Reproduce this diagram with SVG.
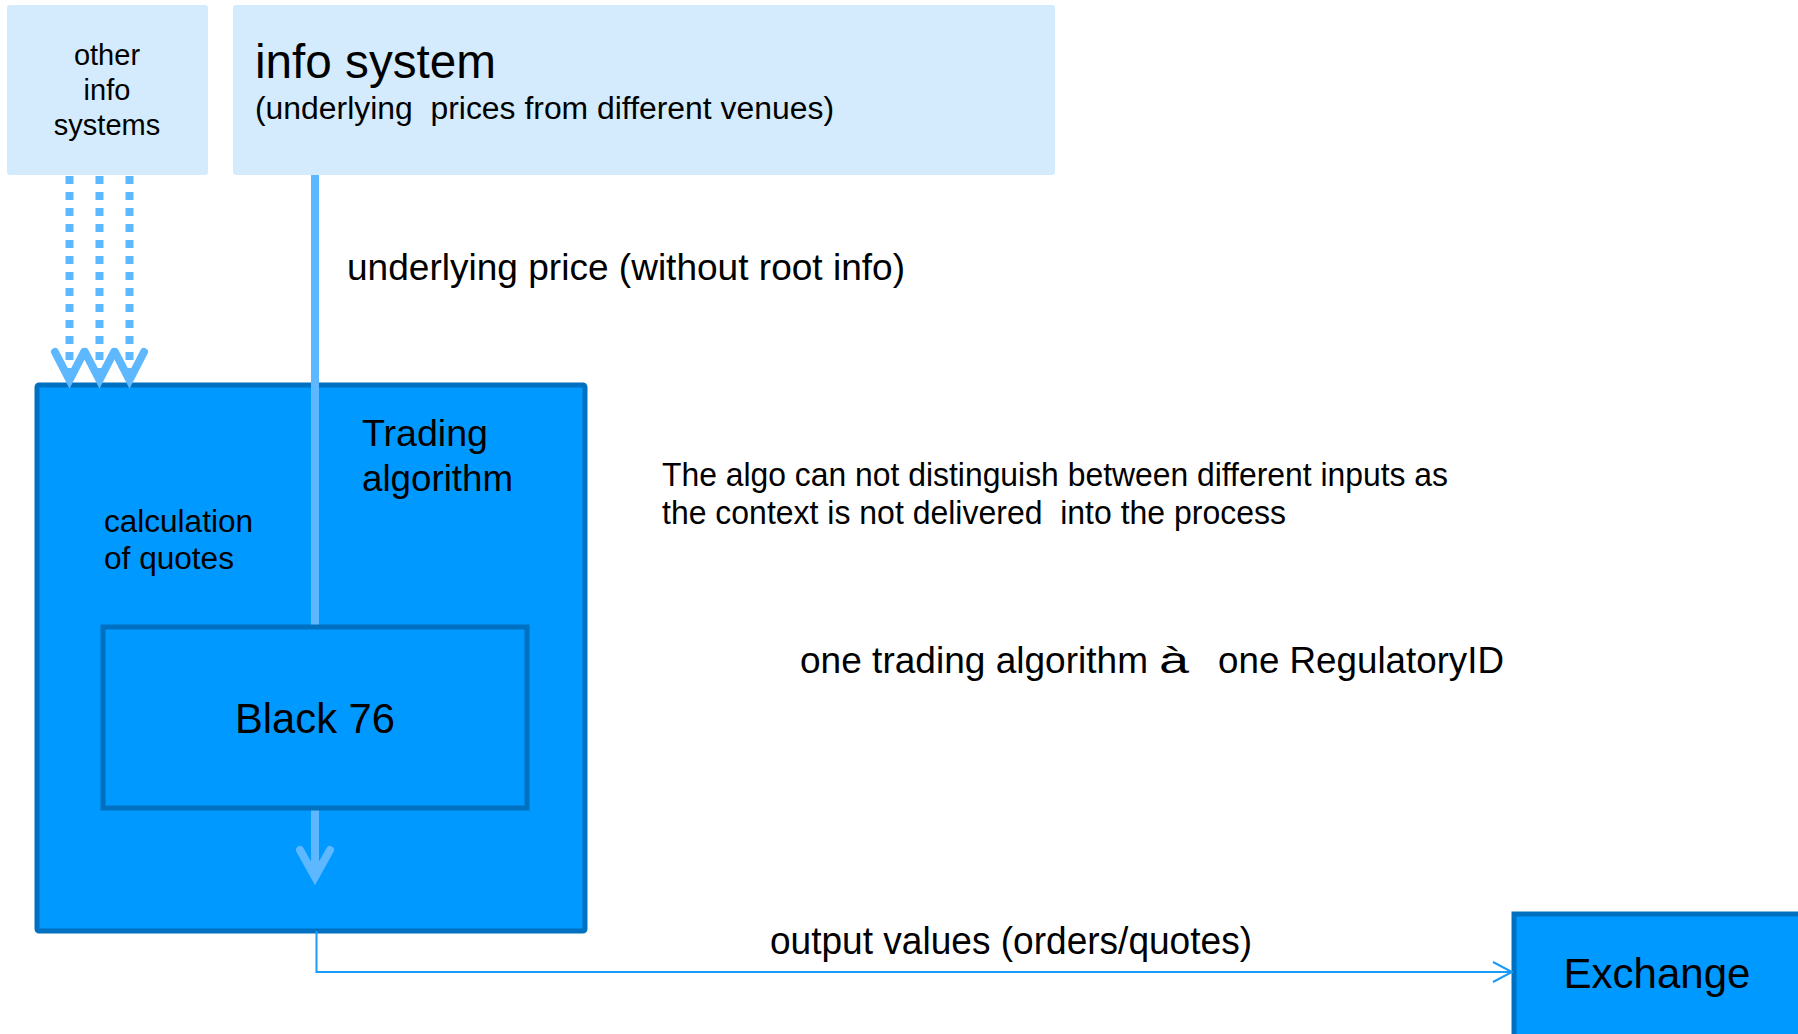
<svg xmlns="http://www.w3.org/2000/svg" width="1798" height="1034" viewBox="0 0 1798 1034">
<style>
  text { font-family: "Liberation Sans", Arial, sans-serif; fill: #000; white-space: pre; }
  .light { fill: #D3EBFC; stroke: none; }
  .dark { fill: #0099FF; stroke: #0070C0; stroke-width: 5; }
  .feed { stroke: #5EB8FF; stroke-width: 8; fill: none; }
  .dots { stroke: #5EB8FF; stroke-width: 8; fill: none; stroke-dasharray: 8 8; }
  .chev { stroke: #5EB8FF; stroke-width: 8; fill: none; stroke-linecap: round; stroke-linejoin: miter; }
  .out { stroke: #1A9BF5; stroke-width: 2; fill: none; }
</style>
<rect width="1798" height="1034" fill="#FFFFFF"/>

<g id="other-info-systems">
  <rect class="light" x="7" y="5" width="201" height="170" rx="3"/>
  <text x="107" y="65" font-size="29" text-anchor="middle">other</text>
  <text x="107" y="100" font-size="29" text-anchor="middle">info</text>
  <text x="107" y="135" font-size="29" text-anchor="middle">systems</text>
</g>

<g id="info-system">
  <rect class="light" x="233" y="5" width="822" height="170" rx="3"/>
  <text x="255" y="78" font-size="48" textLength="241" lengthAdjust="spacingAndGlyphs">info system</text>
  <text x="255" y="119" font-size="31" textLength="579" lengthAdjust="spacingAndGlyphs" xml:space="preserve">(underlying  prices from different venues)</text>
</g>

<g id="trading-algorithm">
  <rect class="dark" x="37" y="385" width="548" height="546" rx="2"/>
  <text x="362" y="446" font-size="36" textLength="126" lengthAdjust="spacingAndGlyphs">Trading</text>
  <text x="362" y="491" font-size="36" textLength="151" lengthAdjust="spacingAndGlyphs">algorithm</text>
  <text x="104" y="532" font-size="31" textLength="149" lengthAdjust="spacingAndGlyphs">calculation</text>
  <text x="104" y="569" font-size="31" textLength="130" lengthAdjust="spacingAndGlyphs">of quotes</text>
</g>

<g id="exchange">
  <rect class="dark" x="1514" y="914" width="300" height="200"/>
  <text x="1657" y="988" font-size="42" text-anchor="middle">Exchange</text>
</g>

<g id="connectors">
  <line class="dots" x1="69.5" y1="176" x2="69.5" y2="374"/>
  <line class="dots" x1="99.5" y1="176" x2="99.5" y2="374"/>
  <line class="dots" x1="129.5" y1="176" x2="129.5" y2="374"/>
  <polyline class="chev" points="55,352 69.5,380 84,352"/>
  <polyline class="chev" points="85,352 99.5,380 114,352"/>
  <polyline class="chev" points="115,352 129.5,380 144,352"/>
  <line class="feed" x1="315" y1="175" x2="315" y2="630"/>
  <line class="feed" x1="315" y1="806" x2="315" y2="874"/>
  <polyline class="chev" points="300,850 315,877 330,850"/>
  <path class="out" d="M316.5 931 V972 H1511"/>
  <path class="out" d="M1493 962 L1512 972 L1493 982"/>
</g>

<g id="black-76">
  <rect class="dark" x="103" y="627" width="424" height="181"/>
  <text x="315" y="733" font-size="42" text-anchor="middle" textLength="160" lengthAdjust="spacingAndGlyphs">Black 76</text>
</g>

<g id="labels">
  <text x="347" y="280" font-size="37" textLength="558" lengthAdjust="spacingAndGlyphs">underlying price (without root info)</text>
  <text x="662" y="486" font-size="33" textLength="786" lengthAdjust="spacingAndGlyphs">The algo can not distinguish between different inputs as</text>
  <text x="662" y="524" font-size="33" textLength="624" lengthAdjust="spacingAndGlyphs" xml:space="preserve">the context is not delivered  into the process</text>
  <text x="800" y="673" font-size="37" textLength="348" lengthAdjust="spacingAndGlyphs">one trading algorithm</text>
  <text x="1159" y="673" font-size="37" textLength="30" lengthAdjust="spacingAndGlyphs">à</text>
  <text x="1218" y="673" font-size="37" textLength="286" lengthAdjust="spacingAndGlyphs">one RegulatoryID</text>
  <text x="770" y="954" font-size="38" textLength="482" lengthAdjust="spacingAndGlyphs">output values (orders/quotes)</text>
</g>
</svg>
